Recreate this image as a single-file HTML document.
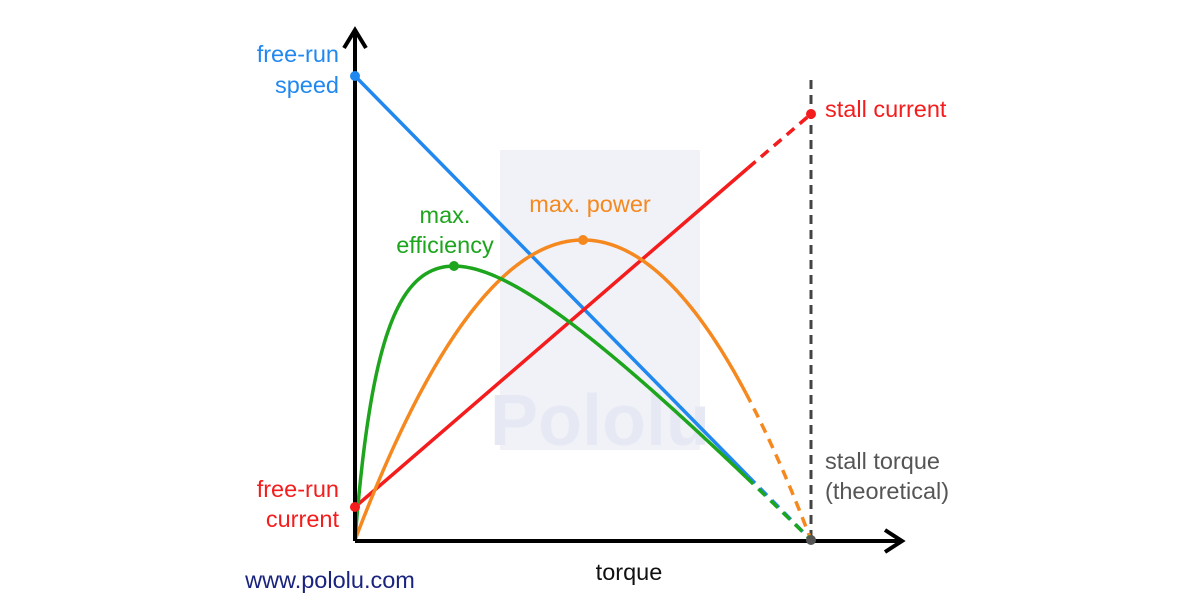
<!DOCTYPE html>
<html><head><meta charset="utf-8"><style>
html,body{margin:0;padding:0;background:#fff;}
svg{display:block;font-family:"Liberation Sans",Arial,sans-serif;}
</style></head><body>
<svg id="s" width="1200" height="600" viewBox="0 0 1200 600" xmlns="http://www.w3.org/2000/svg">
<rect x="500" y="150" width="200" height="300" fill="#f0f2f8"/>
<text x="600" y="445" font-size="72" font-weight="bold" fill="#e6e9f3" text-anchor="middle">Pololu</text>
<line x1="811" y1="80" x2="811" y2="540" stroke="#444" stroke-width="3" stroke-dasharray="9,6"/>
<line x1="355" y1="76" x2="748" y2="476" stroke="#2188f0" stroke-width="3.5"/>
<line x1="748" y1="476" x2="811" y2="540" stroke="#2188f0" stroke-width="3.5" stroke-dasharray="10,7"/>
<line x1="355" y1="507" x2="748" y2="168" stroke="#f41c1c" stroke-width="3.5"/>
<line x1="748" y1="168" x2="811" y2="114" stroke="#f41c1c" stroke-width="3.5" stroke-dasharray="10,7"/>
<path id="org" fill="none" stroke="#f5891f" stroke-width="3.5"/>
<path id="orgd" fill="none" stroke="#f5891f" stroke-width="3.5" stroke-dasharray="10,7"/>
<path id="grn" fill="none" stroke="#1ea51e" stroke-width="3.5"/>
<path id="grnd" fill="none" stroke="#1ea51e" stroke-width="3.5" stroke-dasharray="10,7"/>
<line x1="355" y1="541" x2="900" y2="541" stroke="#000" stroke-width="4"/>
<polyline points="885,530 902,541 885,552" fill="none" stroke="#000" stroke-width="4"/>
<line x1="355" y1="541" x2="355" y2="32" stroke="#000" stroke-width="4"/>
<polyline points="344,48 355,30 366,48" fill="none" stroke="#000" stroke-width="4"/>
<circle cx="355" cy="76" r="5" fill="#2188f0"/>
<circle cx="355" cy="507" r="5" fill="#f41c1c"/>
<circle cx="811" cy="114" r="5" fill="#f41c1c"/>
<circle cx="583" cy="240" r="5" fill="#f5891f"/>
<circle cx="454" cy="266" r="5" fill="#1ea51e"/>
<circle cx="811" cy="540" r="5" fill="#555"/>
<g font-size="23.5">
<text x="339" y="62" fill="#2188f0" text-anchor="end">free-run</text>
<text x="339" y="93" fill="#2188f0" text-anchor="end">speed</text>
<text x="825" y="117" fill="#f41c1c">stall current</text>
<text x="445" y="223" fill="#1ea51e" text-anchor="middle">max.</text>
<text x="445" y="253" fill="#1ea51e" text-anchor="middle">efficiency</text>
<text x="590" y="212" fill="#f5891f" text-anchor="middle">max. power</text>
<text x="825" y="469" fill="#555">stall torque</text>
<text x="825" y="499" fill="#555">(theoretical)</text>
<text x="339" y="497" fill="#f41c1c" text-anchor="end">free-run</text>
<text x="339" y="527" fill="#f41c1c" text-anchor="end">current</text>
<text x="629" y="580" fill="#111" text-anchor="middle">torque</text>
<text x="330" y="588" fill="#1a237e" text-anchor="middle">www.pololu.com</text>
</g>
</svg>
<script>
function pts(f,a,b){var s="";for(var i=0;i<=200;i++){var t=a+(b-a)*i/200;var y=f(t);s+=(i?"L":"M")+(355+456*t).toFixed(2)+","+y.toFixed(2);}return s;}
var po=function(t){return 540-1200*t*(1-t);};
var i0=0.077;var eta=function(t){return 540-447*t*(1-t)/(i0+(1-i0)*t);};
var tc=(746-355)/456;
document.getElementById("org").setAttribute("d",pts(po,0,tc));
document.getElementById("orgd").setAttribute("d",pts(po,tc,1));
document.getElementById("grn").setAttribute("d",pts(eta,0,tc));
document.getElementById("grnd").setAttribute("d",pts(eta,tc,1));
</script>
</body></html>
